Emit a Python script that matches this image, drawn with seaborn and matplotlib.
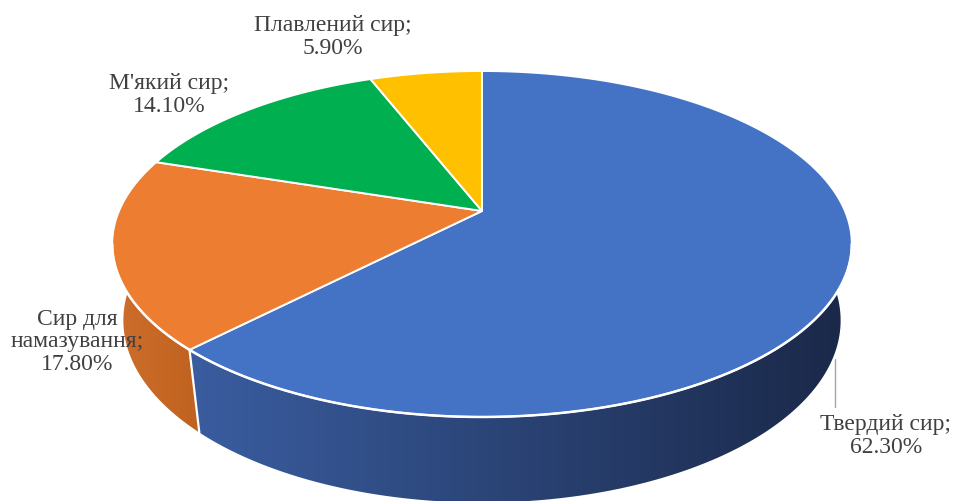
import numpy as np
import matplotlib
matplotlib.use("Agg")
import matplotlib.pyplot as plt
from matplotlib.patches import Polygon
from matplotlib.colors import to_rgb
import seaborn as sns

# Cheese market structure, share of each category (%)
categories = ["Твердий сир", "Сир для\nнамазування", "М'який сир", "Плавлений сир"]
shares = [62.3, 17.8, 14.1, 5.9]
top_colors = ["#4472C4", "#ED7D31", "#00B050", "#FFC000"]
side_colors = [("#3A5DA0", "#1A2848"), ("#CE6E2C", "#C0621F"),
               ("#00853C", "#006B30"), ("#C79600", "#A77E00")]
label_pos = [(886, 436), (77, 342), (169, 95), (333, 37)]

sns.set_theme(style="white")
plt.rcParams["font.family"] = ["Liberation Serif", "DejaVu Serif"]

fig = plt.figure(figsize=(9.56, 5.02), dpi=100)
ax = fig.add_axes([0, 0, 1, 1])
ax.set_xlim(0, 956)
ax.set_ylim(502, 0)
ax.axis("off")

# perspective projection of a tilted disc (t measured clockwise from the back)
CX, CY = 482, 212
A, B, K = 363, 166.7, 0.1907
DEPTH_Y, DEPTH_K = 78, 0.03


def project(t, z=0.0):
    u, v = np.sin(t), np.cos(t)
    d = 1 + K * v + DEPTH_K * z
    return CX + A * u / d, CY + (-B * v + DEPTH_Y * z) / d


fracs = np.array(shares) / np.sum(shares)
bounds = np.concatenate([[0], np.cumsum(fracs)]) * 2 * np.pi

# side walls (only the front half is visible)
for i in range(len(shares)):
    a0, a1 = max(bounds[i], np.pi / 2), min(bounds[i + 1], 3 * np.pi / 2)
    if a1 <= a0:
        continue
    t = np.linspace(a0, a1, 200)
    xt, yt = project(t, 0)
    xb, yb = project(t[::-1], 1)
    pts = np.column_stack([np.concatenate([xt, xb]), np.concatenate([yt, yb])])
    poly = Polygon(pts, closed=True, facecolor="none", edgecolor="none", zorder=1)
    ax.add_patch(poly)
    x0, x1 = pts[:, 0].min(), pts[:, 0].max()
    c0, c1 = np.array(to_rgb(side_colors[i][0])), np.array(to_rgb(side_colors[i][1]))
    w = np.linspace(0, 1, 256)[:, None]
    grad = (c0 * (1 - w) + c1 * w)[None, :, :]
    im = ax.imshow(grad, extent=[x0, x1, pts[:, 1].max() + 2, pts[:, 1].min() - 2],
                   aspect="auto", zorder=1, interpolation="bilinear")
    im.set_clip_path(poly)

# white seams on the wall
for b in bounds[1:-1]:
    if np.pi / 2 < b < 3 * np.pi / 2:
        xs, ys = zip(project(b, 0), project(b, 1))
        ax.plot(xs, ys, color="white", lw=1.6, zorder=2)

# top face wedges
for i in range(len(shares)):
    t = np.linspace(bounds[i], bounds[i + 1], 300)
    xt, yt = project(t, 0)
    pts = np.column_stack([np.concatenate([[CX], xt]), np.concatenate([[CY], yt])])
    ax.add_patch(Polygon(pts, closed=True, facecolor=top_colors[i],
                         edgecolor="white", lw=1.4, joinstyle="round", zorder=3))

# white rim between the top face and the wall
t = np.linspace(np.arccos(-K), 2 * np.pi - np.arccos(-K), 400)
xr, yr = project(t, 0)
ax.plot(xr, yr, color="white", lw=1.8, zorder=4)

# data labels
for name, val, (lx, ly) in zip(categories, shares, label_pos):
    ax.text(lx, ly, f"{name};\n{val:.2f}%", ha="center", va="center",
            multialignment="center", fontsize=17, color="#404040", linespacing=1.12,
            zorder=6)

# leader line for the largest slice
ax.plot([835, 835], [360, 408], color="#A6A6A6", lw=1, zorder=5)

fig.savefig("out.png", dpi=100)
